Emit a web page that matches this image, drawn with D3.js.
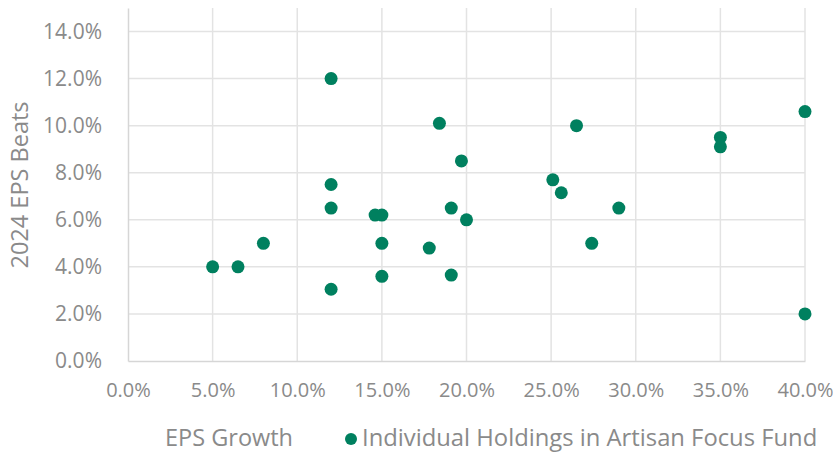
<!DOCTYPE html>
<html><head><meta charset="utf-8">
<script src="https://cdn.jsdelivr.net/npm/d3@7"></script>
<style>
html,body{margin:0;padding:0;background:#fff;}
text{font-family:"Open Sans",sans-serif;}
</style></head>
<body><svg id="c" width="833" height="453"></svg>
<script>
const epsGrowth = [12.0, 18.4, 19.7, 12.0, 12.0, 14.6, 15.0, 19.1, 20.0, 8.0, 5.0, 6.5, 15.0, 17.8, 15.0, 19.1, 12.0, 26.5, 25.1, 25.6, 29.0, 27.4, 35.0, 35.0, 40.0, 40.0];
const epsBeats  = [12.0, 10.1, 8.5, 7.5, 6.5, 6.2, 6.2, 6.5, 6.0, 5.0, 4.0, 4.0, 5.0, 4.8, 3.6, 3.65, 3.05, 10.0, 7.7, 7.15, 6.5, 5.0, 9.5, 9.1, 10.6, 2.0];
const xTicks = [0, 5, 10, 15, 20, 25, 30, 35, 40];
const yTicks = [0, 2, 4, 6, 8, 10, 12, 14];
const seriesName = "Individual Holdings in Artisan Focus Fund";
const xTitle = "EPS Growth";
const yTitle = "2024 EPS Beats";

const svg = d3.select("#c");
const x = d3.scaleLinear().domain([0, 40]).range([128, 805]);
const y = d3.scaleLinear().domain([0, 15]).range([361, 8]);
const green = "#00805f";
const grid = "#e3e3e3";
const txt = "#8a8a8a";

// grid
svg.append("g").selectAll("line").data(yTicks.filter(d=>d>0)).join("line")
  .attr("x1", x(0)).attr("x2", x(40)).attr("y1", d=>y(d)).attr("y2", d=>y(d))
  .attr("stroke", grid).attr("stroke-width", 1.5);
svg.append("g").selectAll("line").data(xTicks.filter(d=>d>0)).join("line")
  .attr("x1", d=>x(d)).attr("x2", d=>x(d)).attr("y1", y(0)).attr("y2", y(15))
  .attr("stroke", grid).attr("stroke-width", 1.5);

// axes
const xAxis = svg.append("g").attr("transform", `translate(0,${y(0)})`)
  .call(d3.axisBottom(x).tickValues(xTicks).tickFormat(d=>d.toFixed(1)+"%").tickSize(0));
const yAxis = svg.append("g").attr("transform", `translate(${x(0)},0)`)
  .call(d3.axisLeft(y).tickValues(yTicks).tickFormat(d=>d.toFixed(1)+"%").tickSize(0).tickPadding(26));
[xAxis, yAxis].forEach(g=>{
  g.select(".domain").attr("stroke", "#d6d6d6").attr("stroke-width", 1.5);
  g.selectAll("text").attr("fill", txt).attr("font-size", 21).attr("font-family", "Open Sans");
});
xAxis.selectAll("text").attr("y", 36).attr("dy", 0).attr("font-size", 20);

// points
svg.append("g").selectAll("circle").data(epsGrowth.map((v,i)=>[v, epsBeats[i]])).join("circle")
  .attr("cx", d=>x(d[0])).attr("cy", d=>y(d[1])).attr("r", 6.5).attr("fill", green);

// titles
svg.append("text").attr("transform", `translate(28,${185}) rotate(-90)`)
  .attr("text-anchor", "middle").attr("fill", txt).attr("font-size", 23.5).text(yTitle);
svg.append("text").attr("x", 165).attr("y", 446).attr("fill", txt).attr("font-size", 23.5).text(xTitle);
svg.append("circle").attr("cx", 351).attr("cy", 439).attr("r", 6).attr("fill", green);
svg.append("text").attr("x", 362).attr("y", 446).attr("fill", txt).attr("font-size", 23.8).text(seriesName);
</script></body></html>
